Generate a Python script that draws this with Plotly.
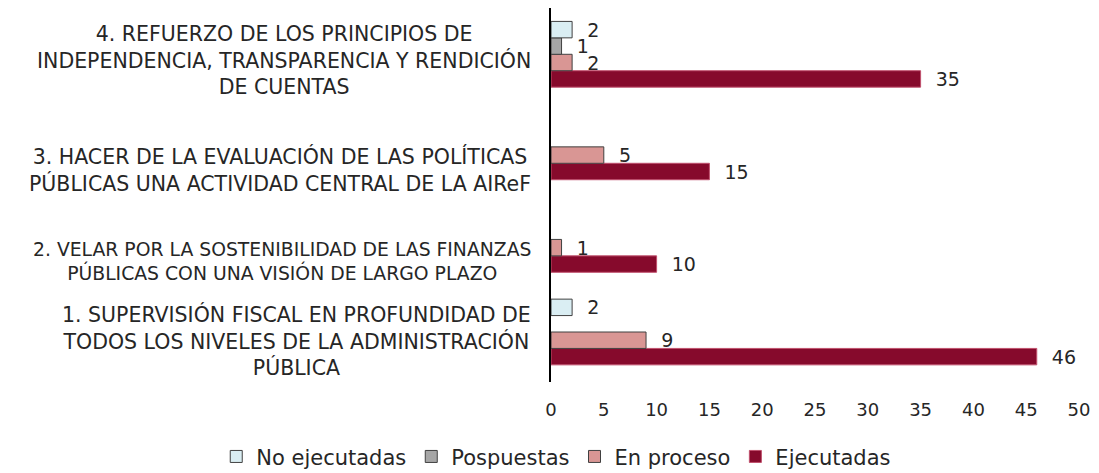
import plotly.graph_objects as go

categories = [
    "1. SUPERVISIÓN FISCAL EN PROFUNDIDAD DE<br>TODOS LOS NIVELES DE LA ADMINISTRACIÓN<br>PÚBLICA",
    "2. VELAR POR LA SOSTENIBILIDAD DE LAS FINANZAS<br>PÚBLICAS CON UNA VISIÓN DE LARGO PLAZO",
    "3. HACER DE LA EVALUACIÓN DE LAS POLÍTICAS<br>PÚBLICAS UNA ACTIVIDAD CENTRAL DE LA AIReF",
    "4. REFUERZO DE LOS PRINCIPIOS DE<br>INDEPENDENCIA, TRANSPARENCIA Y RENDICIÓN<br>DE CUENTAS",
]
cat_ids = ["c1", "c2", "c3", "c4"]

no_ejecutadas = [2, None, None, 2]
pospuestas = [None, None, None, 1]
en_proceso = [9, 1, 5, 2]
ejecutadas = [46, 10, 15, 35]

# label styling (font size, vertical offset in px)
label_sizes = [20.5, 18.8, 20.5, 20.5]
label_yshift = [-9, -22, -23, -6]

series = [
    ("Ejecutadas", ejecutadas, "#860A2C", "#C0506D", 4),
    ("En proceso", en_proceso, "#D99694", "#404040", 3),
    ("Pospuestas", pospuestas, "#A6A6A6", "#404040", 2),
    ("No ejecutadas", no_ejecutadas, "#DAEEF3", "#404040", 1),
]

FONT = "DejaVu Sans"
TXT = "#262626"
NB = "\u00a0\u00a0"

fig = go.Figure()
for name, vals, fill, line, rank in series:
    fig.add_trace(go.Bar(
        y=cat_ids, x=vals, name=name, orientation="h",
        marker=dict(color=fill, line=dict(color=line, width=1)),
        text=[("" if v is None else NB + str(v)) for v in vals],
        textposition="outside", cliponaxis=False, constraintext="none",
        textfont=dict(family=FONT, size=19, color=TXT),
        legendrank=rank,
    ))

for cid, label, sz, ys in zip(cat_ids, categories, label_sizes, label_yshift):
    fig.add_annotation(
        x=0, xref="paper", y=cid, yref="y", xanchor="right", xshift=-18, yshift=ys,
        text=label, showarrow=False, align="center",
        font=dict(family=FONT, size=sz, color=TXT),
    )

fig.update_layout(
    width=1091, height=465,
    margin=dict(l=543, r=20, t=0, b=91, autoexpand=False),
    paper_bgcolor="white", plot_bgcolor="white",
    barmode="group", bargap=0.29, bargroupgap=0,
    font=dict(family=FONT, size=18, color=TXT),
    showlegend=True,
    legend=dict(orientation="h", x=-0.634, xanchor="left", xref="paper",
                y=-0.200, yanchor="middle", yref="paper",
                font=dict(family=FONT, size=21, color=TXT),
                itemwidth=30, tracegroupgap=0),
    xaxis=dict(range=[0, 50], dtick=5, showgrid=False, zeroline=False,
               showline=False, ticks="", ticklabelstandoff=15,
               tickfont=dict(family=FONT, size=18, color=TXT)),
    yaxis=dict(showticklabels=False, showgrid=False, zeroline=False,
               showline=True, linecolor="#000000", linewidth=2, ticks="",
               categoryorder="array", categoryarray=cat_ids),
)

fig.write_html("out.html")
